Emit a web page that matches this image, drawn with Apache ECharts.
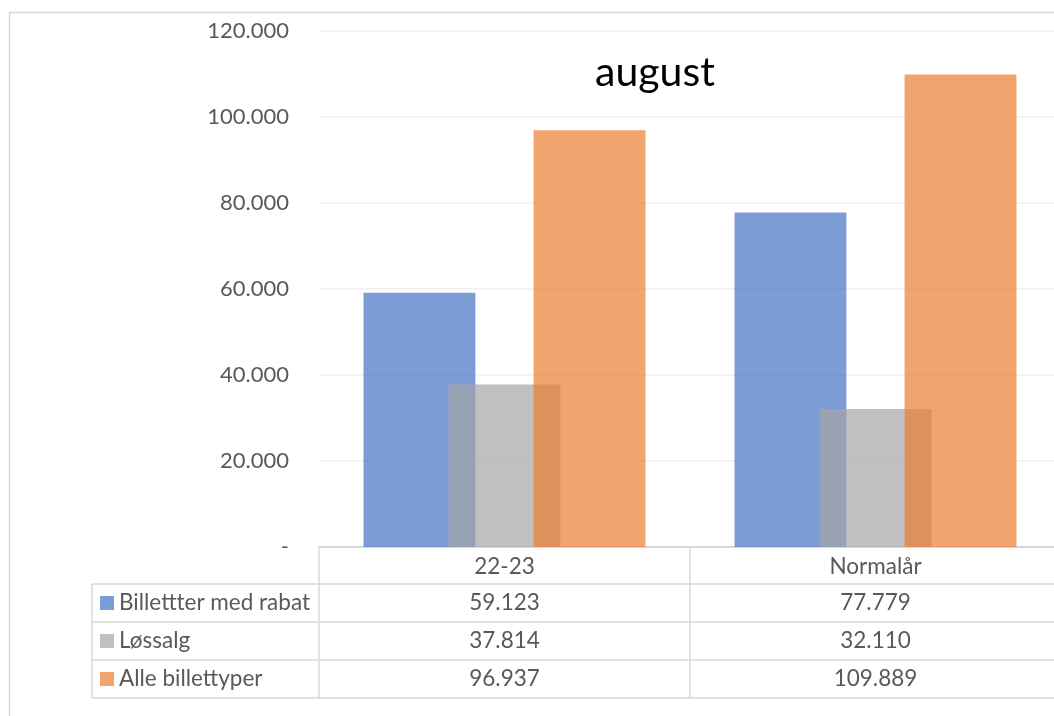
<!DOCTYPE html>
<html>
<head>
<meta charset="utf-8">
<script src="https://cdn.jsdelivr.net/npm/echarts@6/dist/echarts.min.js"></script>
<style>
  html, body { margin: 0; padding: 0; background: #fff; overflow: hidden; }
  #main { width: 1070px; height: 716px; }
</style>
</head>
<body>
<div id="main"></div>
<script>
// data
var categories = ['22-23', 'Normalår'];
var seriesNames = ['Billettter med rabat', 'Løssalg', 'Alle billettyper'];
var rabat = [59123, 77779];
var lossalg = [37814, 32110];
var alle = [96937, 109889];
var colors = ['#4472C4', '#A5A5A5', '#ED7D31'];

var FONT = 'Lato';
var TXT = '#595959';
var LINE = '#d9d9d9';

function fmt(v) {
  if (v === 0) return '-';
  return String(v).replace(/\B(?=(\d{3})+(?!\d))/g, '.');
}

var chart = echarts.init(document.getElementById('main'));
var allData = [rabat, lossalg, alle];

var option = {
  animation: false,
  backgroundColor: '#fff',
  title: {
    text: 'august',
    left: 590,
    top: 47,
    textStyle: { fontFamily: FONT, fontSize: 41, fontWeight: 'normal', color: '#000' }
  },
  // plot runs past the right edge of the window, like the cropped original
  grid: { left: 319, right: 9, top: 31, bottom: 169 },
  xAxis: {
    type: 'category',
    data: categories,
    axisLine: { show: true, lineStyle: { color: LINE, width: 2 } },
    axisTick: { show: false },
    axisLabel: { color: TXT, fontFamily: FONT, fontSize: 22.5, margin: 8 }
  },
  yAxis: {
    type: 'value',
    min: 0,
    max: 120000,
    interval: 20000,
    axisLine: { show: false },
    axisTick: { show: false },
    splitLine: { lineStyle: { color: '#efefef', width: 1.5 } },
    axisLabel: {
      color: TXT, fontFamily: FONT, fontSize: 22, margin: 30,
      formatter: fmt
    }
  },
  series: seriesNames.map(function (n, i) {
    return {
      name: n,
      type: 'bar',
      data: allData[i],
      barGap: '-24%',
      barCategoryGap: '24%',
      itemStyle: { color: colors[i], opacity: 0.7 }
    };
  })
};
chart.setOption(option);

// data table under the plot, columns follow the category axis
var x0 = chart.convertToPixel({ xAxisIndex: 0 }, 0);
var x1 = chart.convertToPixel({ xAxisIndex: 0 }, 1);
var half = (x1 - x0) / 2;
var yTop = chart.convertToPixel({ yAxisIndex: 0 }, 0);
var rowH = 38;
var tableLeft = 92;
var colLeft = x0 - half;
var colRight = x1 + half;
var hdrBottom = yTop + 37;

var g = [];
// outer chart border
g.push({ type: 'rect', shape: { x: 9.5, y: 12.5, width: 1100, height: 800 },
  style: { fill: 'none', stroke: LINE, lineWidth: 1.5 }, z: 0 });

function hline(xa, xb, y) {
  g.push({ type: 'line', shape: { x1: xa, y1: y, x2: xb, y2: y },
    style: { stroke: LINE, lineWidth: 1.5 }, z: 10 });
}
function vline(x, ya, yb) {
  g.push({ type: 'line', shape: { x1: x, y1: ya, x2: x, y2: yb },
    style: { stroke: LINE, lineWidth: 1.5 }, z: 10 });
}

var tableBottom = hdrBottom + rowH * 3;
hline(tableLeft, colRight, hdrBottom);
for (var r = 1; r <= 3; r++) hline(tableLeft, colRight, hdrBottom + rowH * r);
vline(tableLeft, hdrBottom, tableBottom);
vline(colLeft, yTop, tableBottom);
vline(x0 + half, yTop, tableBottom);
vline(colRight, yTop, tableBottom);

seriesNames.forEach(function (n, i) {
  var cy = hdrBottom + rowH * i + rowH / 2;
  g.push({ type: 'rect', shape: { x: 100, y: cy - 7, width: 14, height: 14 },
    style: { fill: colors[i], opacity: 0.7 }, z: 11 });
  g.push({ type: 'text', x: 119, y: cy, z: 11,
    style: { text: n, fill: TXT, font: '22.5px ' + FONT, textAlign: 'left', textVerticalAlign: 'middle' } });
  allData[i].forEach(function (v, j) {
    var cx = chart.convertToPixel({ xAxisIndex: 0 }, j);
    g.push({ type: 'text', x: cx, y: cy, z: 11,
      style: { text: fmt(v), fill: TXT, font: '22.5px ' + FONT, textAlign: 'center', textVerticalAlign: 'middle' } });
  });
});

chart.setOption({ graphic: g });
</script>
</body>
</html>
